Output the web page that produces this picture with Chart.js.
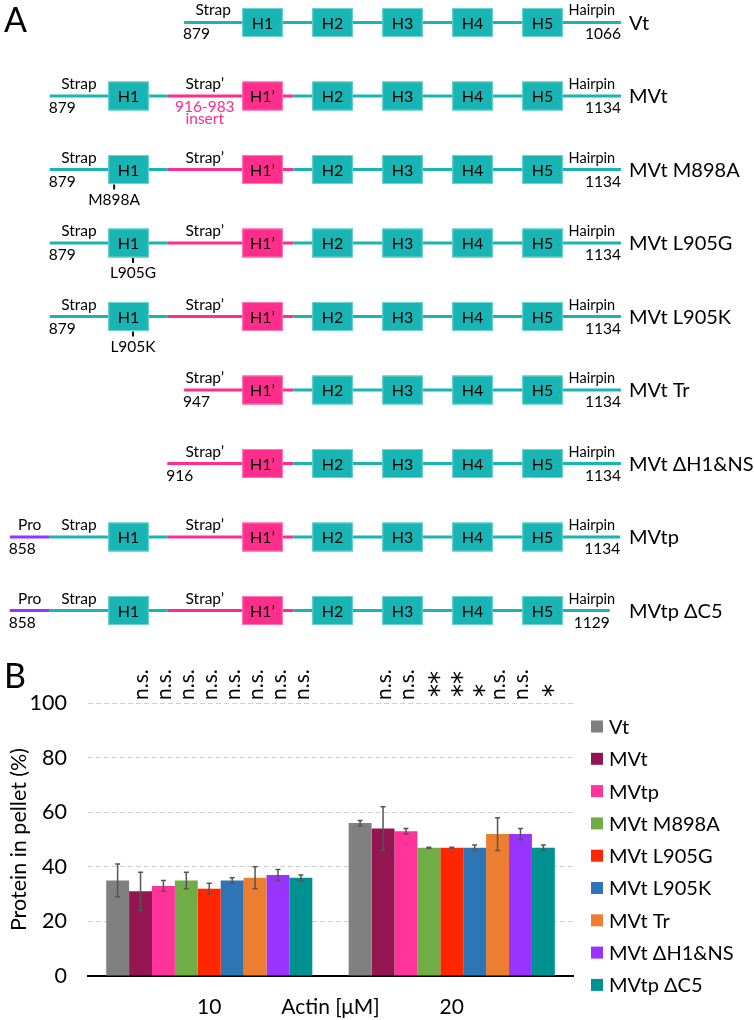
<!DOCTYPE html>
<html>
<head>
<meta charset="utf-8">
<script src="https://cdn.jsdelivr.net/npm/chart.js@4.4.0/dist/chart.umd.min.js"></script>
<style>
  html, body { margin: 0; padding: 0; background: #fff; }
  canvas { display: block; }
</style>
</head>
<body>
<canvas id="schemeChart" width="754" height="640"></canvas>
<canvas id="pelletChart" width="754" height="380"></canvas>
<script>
// ---------- Panel A: construct schematic (x in helix slots: H2 = 2 ... H5 = 5)
const constructNames = ['Vt', 'MVt', 'MVt M898A', 'MVt L905G', 'MVt L905K', 'MVt Tr', 'MVt ΔH1&NS', 'MVtp', 'MVtp ΔC5'];
const firstResidue = ['879', '879', '879', '879', '879', '947', '916', '858', '858'];
const lastResidue = ['1066', '1134', '1134', '1134', '1134', '1134', '1134', '1134', '1129'];
const lineStart = [-0.12, -2.04, -2.04, -2.04, -2.04, -0.12, -0.36, -2.61, -2.61];
const lineEnd = [6.12, 6.12, 6.12, 6.12, 6.12, 6.12, 6.12, 6.11, 5.96];
const hasPro = [false, false, false, false, false, false, false, true, true];
const hasH1 = [true, true, true, true, true, false, false, true, true];
const hasInsert = [false, true, true, true, true, true, true, true, true];
const mutationName = ['', '', 'M898A', 'L905G', 'L905K', '', '', '', ''];
const mutationPos = [null, null, -1.12, -0.85, -0.85, null, null, null, null];
const proEnd = -2.04;
const insertStart = -0.36;
const insertEnd = 1.44;
const h1VtPos = 1;
const h1MvPos = -0.914;
const h1PrimePos = 1;
const helixNames = ['H2', 'H3', 'H4', 'H5'];
const helixPos = [2, 3, 4, 5];

// ---------- Panel B: actin co-sedimentation
const actinConc = ['10', '20'];
const variants = ['Vt', 'MVt', 'MVtp', 'MVt M898A', 'MVt L905G', 'MVt L905K', 'MVt Tr', 'MVt ΔH1&NS', 'MVtp ΔC5'];
const pellet10 = [35, 31, 33, 35, 32, 35, 36, 37, 36];
const pellet20 = [56, 54, 53, 47, 47, 47, 52, 52, 47];
const err10 = [6, 7, 2, 3, 2, 1, 4, 2, 1];
const err20 = [1, 8, 1, 0.2, 0.2, 1, 6, 2, 1];
const sig10 = ['', 'n.s.', 'n.s.', 'n.s.', 'n.s.', 'n.s.', 'n.s.', 'n.s.', 'n.s.'];
const sig20 = ['', 'n.s.', 'n.s.', '**', '**', '*', 'n.s.', 'n.s.', '*'];
const barColors = ['#808080', '#931651', '#ff3399', '#70ad47', '#ff2600', '#2e75b6', '#ed7d31', '#9933ff', '#009191'];

const FONT = 'Lato, "Open Sans", sans-serif';
Chart.defaults.font.family = FONT;
Chart.defaults.color = '#000';

const TEAL = '#19b4b4';
const PINK = '#ff2e8c';
const PURPLE = '#9933ff';

function text(ctx, str, px, py, size, align, baseline, color, family) {
    ctx.font = size + 'px ' + (family || FONT);
    ctx.textAlign = align;
    ctx.textBaseline = baseline;
    ctx.fillStyle = color || '#000';
    ctx.fillText(str, px, py);
}

const schematicPlugin = {
    id: 'schematic',
    afterDraw(chart) {
        const ctx = chart.ctx;
        const x = chart.scales.x;
        const y = chart.scales.y;
        const boxHalf = 0.29;

        ctx.save();
        text(ctx, 'A', 4, 32, 34, 'left', 'alphabetic');

        constructNames.forEach((name, r) => {
            const py = y.getPixelForValue(r);
            const segs = [];
            let tealStart = lineStart[r];
            if (hasPro[r]) {
                segs.push([lineStart[r], proEnd, PURPLE]);
                tealStart = proEnd;
            }
            if (hasInsert[r]) {
                if (hasH1[r]) segs.push([tealStart, insertStart, TEAL]);
                segs.push([Math.max(lineStart[r], insertStart), insertEnd, PINK]);
                segs.push([insertEnd, lineEnd[r], TEAL]);
            } else {
                segs.push([lineStart[r], lineEnd[r], TEAL]);
            }
            ctx.lineWidth = 3;
            segs.forEach(s => {
                ctx.strokeStyle = s[2];
                ctx.beginPath();
                ctx.moveTo(x.getPixelForValue(s[0]), py);
                ctx.lineTo(x.getPixelForValue(s[1]), py);
                ctx.stroke();
            });

            const boxes = [];
            if (hasH1[r]) boxes.push([hasInsert[r] ? h1MvPos : h1VtPos, 'H1', TEAL]);
            if (hasInsert[r]) boxes.push([h1PrimePos, 'H1’', PINK]);
            helixPos.forEach((hp, k) => boxes.push([hp, helixNames[k], TEAL]));
            boxes.forEach(b => {
                const x0 = x.getPixelForValue(b[0] - boxHalf);
                const x1 = x.getPixelForValue(b[0] + boxHalf);
                ctx.fillStyle = b[2];
                ctx.fillRect(x0, py - 14.5, x1 - x0, 29);
                ctx.strokeStyle = b[2] === TEAL ? '#6fd3d3' : '#ff79b5';
                ctx.lineWidth = 1;
                ctx.strokeRect(x0 + 0.5, py - 14, x1 - x0 - 1, 28);
                text(ctx, b[1], (x0 + x1) / 2, py + 1, 16, 'center', 'middle');
            });

            // feature labels above the line
            if (hasPro[r]) {
                text(ctx, 'Pro', x.getPixelForValue((lineStart[r] + proEnd) / 2), py - 7, 15.5, 'center', 'alphabetic');
            }
            if (hasH1[r]) {
                const h1Left = (hasInsert[r] ? h1MvPos : h1VtPos) - boxHalf;
                text(ctx, 'Strap', x.getPixelForValue((tealStart + h1Left) / 2), py - 7, 15.5, 'center', 'alphabetic');
            }
            if (hasInsert[r]) {
                text(ctx, 'Strap’', x.getPixelForValue((insertStart + h1PrimePos - boxHalf) / 2), py - 7, 15.5, 'center', 'alphabetic');
            }
            text(ctx, 'Hairpin', x.getPixelForValue((5 + boxHalf + 6.12) / 2), py - 7, 14.5, 'center', 'alphabetic');

            // residue numbers below the line
            text(ctx, firstResidue[r], x.getPixelForValue(lineStart[r]) - 1, py + 12, 15.5, 'left', 'middle');
            text(ctx, lastResidue[r], x.getPixelForValue(lineEnd[r]), py + 12, 15.5, 'right', 'middle');

            // construct name
            text(ctx, name, x.getPixelForValue(6.12) + 8, py + 1, 20, 'left', 'middle');

            // point mutation
            if (mutationName[r]) {
                const mx = x.getPixelForValue(mutationPos[r]);
                ctx.strokeStyle = '#111';
                ctx.lineWidth = 2;
                ctx.beginPath();
                ctx.moveTo(mx, py + 15);
                ctx.lineTo(mx, py + 20);
                ctx.stroke();
                text(ctx, mutationName[r], mx, py + 30, 15.5, 'center', 'middle');
            }
        });

        // insert note on the MVt row
        const nx = x.getPixelForValue((insertStart + h1PrimePos - boxHalf) / 2);
        const ny = y.getPixelForValue(1);
        text(ctx, '916-983', nx, ny + 11, 15.5, 'center', 'middle', PINK);
        text(ctx, 'insert', nx, ny + 23, 15.5, 'center', 'middle', PINK);
        ctx.restore();
    }
};

new Chart(document.getElementById('schemeChart'), {
    type: 'scatter',
    data: { datasets: [{ data: [] }] },
    options: {
        responsive: false,
        animation: false,
        layout: { padding: 0 },
        plugins: { legend: { display: false }, tooltip: { enabled: false } },
        scales: {
            x: { type: 'linear', min: -2.75, max: 8.021, display: false },
            y: { type: 'linear', min: -0.306, max: 8.401, reverse: true, display: false }
        }
    },
    plugins: [schematicPlugin]
});

// ---------- Panel B plugins
const errorBarPlugin = {
    id: 'errorBars',
    afterDatasetsDraw(chart) {
        const ctx = chart.ctx;
        const y = chart.scales.y;
        ctx.save();
        ctx.strokeStyle = '#555';
        ctx.lineWidth = 1.5;
        chart.data.datasets.forEach((ds, i) => {
            const meta = chart.getDatasetMeta(i);
            const errs = [err10[i], err20[i]];
            meta.data.forEach((bar, j) => {
                const v = ds.data[j];
                const top = y.getPixelForValue(v + errs[j]);
                const bot = y.getPixelForValue(v - errs[j]);
                ctx.beginPath();
                ctx.moveTo(bar.x, top);
                ctx.lineTo(bar.x, bot);
                ctx.moveTo(bar.x - 2.5, top);
                ctx.lineTo(bar.x + 2.5, top);
                ctx.moveTo(bar.x - 2.5, bot);
                ctx.lineTo(bar.x + 2.5, bot);
                ctx.stroke();
            });
        });
        ctx.restore();
    }
};

const annotationPlugin = {
    id: 'annotations',
    afterDraw(chart) {
        const ctx = chart.ctx;
        const y = chart.scales.y;
        const area = chart.chartArea;
        ctx.save();
        text(ctx, 'B', 4, 48, 34, 'left', 'alphabetic');

        // significance marks, rotated
        const baseY = y.getPixelForValue(100) - 3;
        chart.data.datasets.forEach((ds, i) => {
            const meta = chart.getDatasetMeta(i);
            [sig10[i], sig20[i]].forEach((s, j) => {
                if (!s) return;
                const bx = meta.data[j].x;
                const star = s[0] === '*';
                ctx.save();
                ctx.translate(bx + (star ? 12 : 1), baseY - (star ? 3 : 0));
                ctx.rotate(-Math.PI / 2);
                if (star) {
                    text(ctx, s, 0, 0, 26, 'left', 'middle', '#000', '"DejaVu Sans", sans-serif');
                } else {
                    text(ctx, s, 0, 0, 21, 'left', 'middle');
                }
                ctx.restore();
            });
        });

        // legend
        variants.forEach((v, i) => {
            const ly = area.top + 23.5 + i * 32.3;
            ctx.fillStyle = barColors[i];
            ctx.fillRect(area.right + 18, ly - 6, 12, 12);
            text(ctx, v, area.right + 36, ly + 1, 20, 'left', 'middle');
        });
        ctx.restore();
    }
};

new Chart(document.getElementById('pelletChart'), {
    type: 'bar',
    data: {
        labels: actinConc,
        datasets: variants.map((v, i) => ({
            label: v,
            data: [pellet10[i], pellet20[i]],
            backgroundColor: barColors[i],
            borderWidth: 0
        }))
    },
    options: {
        responsive: false,
        animation: false,
        layout: { padding: { top: 63, right: 181, left: 0, bottom: 0 } },
        datasets: { bar: { categoryPercentage: 0.85, barPercentage: 1 } },
        plugins: { legend: { display: false }, tooltip: { enabled: false } },
        scales: {
            x: {
                grid: { display: false, drawTicks: false },
                border: { color: '#000', width: 2 },
                ticks: { font: { size: 21 }, color: '#000', padding: 19 },
                title: { display: true, text: 'Actin [μM]', font: { size: 21 }, color: '#000', padding: { top: 0, bottom: 0 } },
                afterFit: s => { s.height = 44; }
            },
            y: {
                min: 0,
                max: 100,
                ticks: { stepSize: 20, font: { size: 21.5 }, color: '#000', padding: 21 },
                grid: {
                    color: c => (c.tick && c.tick.value === 0) ? 'rgba(0,0,0,0)' : '#d0d0d0',
                    lineWidth: 1,
                    drawTicks: false
                },
                border: { display: false, dash: [5, 3] },
                title: { display: true, text: 'Protein in pellet (%)', font: { size: 21.5 }, color: '#000', padding: { top: 6, bottom: 0 } },
                afterFit: s => { s.width = 88; }
            }
        }
    },
    plugins: [errorBarPlugin, annotationPlugin]
});
</script>
</body>
</html>
